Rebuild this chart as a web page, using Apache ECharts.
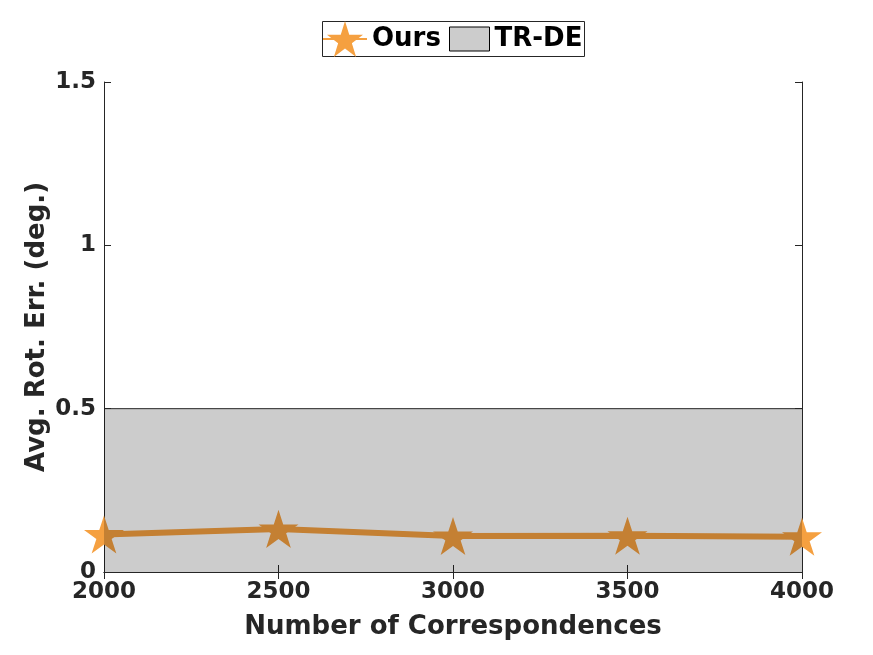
<!DOCTYPE html>
<html>
<head>
<meta charset="utf-8">
<script src="https://cdn.jsdelivr.net/npm/echarts@6/dist/echarts.min.js"></script>
<style>
  html, body { margin: 0; padding: 0; background: #fff; }
  #chart { width: 873px; height: 655px; }
</style>
</head>
<body>
<div id="chart"></div>
<script>
// 数据
var correspondences = [2000, 2500, 3000, 3500, 4000];
var oursErr = [0.115, 0.132, 0.110, 0.111, 0.108];
var trdeRange = [0.5, 0.5]; // TR-DE 区域上沿 (从 2000 到 4000)
var xTicks = [2000, 2500, 3000, 3500, 4000];
var yTicks = [0, 0.5, 1, 1.5];

var starPath = 'path://M50 0 L61.23 34.55 L97.55 34.55 L68.16 55.9 L79.39 90.45 L50 69.1 L20.61 90.45 L31.84 55.9 L2.45 34.55 L38.77 34.55 Z';
var font = 'DejaVu Sans';
var ink = '#262626';
var orange = '#f5a040';

var chart = echarts.init(document.getElementById('chart'));

var oursData = correspondences.map(function (x, i) { return [x, oursErr[i]]; });
var trdeData = [[xTicks[0], trdeRange[0]], [xTicks[xTicks.length - 1], trdeRange[1]]];

var legendText = { fontFamily: font, fontWeight: 'bold', fontSize: 26, color: '#000' };

chart.setOption({
  animation: false,
  // 图例外框
  graphic: [{
    type: 'rect',
    shape: { x: 322.5, y: 21.5, width: 262, height: 35 },
    style: { fill: '#fff', stroke: ink, lineWidth: 1 },
    z: 0
  }],
  legend: [
    {
      top: 21,
      left: 322,
      padding: 0,
      itemWidth: 44,
      itemHeight: 45,
      textStyle: legendText,
      data: ['Ours']
    },
    {
      top: 26,
      left: 449,
      padding: 0,
      itemWidth: 40,
      itemHeight: 24,
      textStyle: legendText,
      data: [{ name: 'TR-DE', icon: 'rect', itemStyle: { color: '#cccccc', borderColor: '#000', borderWidth: 1 } }]
    }
  ],
  grid: { left: 104, right: 71, top: 82, bottom: 83, show: false },
  xAxis: [
    {
      type: 'value',
      min: 2000,
      max: 4000,
      interval: 500,
      name: 'Number of Correspondences',
      nameLocation: 'middle',
      nameGap: 42,
      nameMoveOverlap: false,
      nameTextStyle: { fontFamily: font, fontWeight: 'bold', fontSize: 26, color: ink },
      axisLine: { lineStyle: { color: ink, width: 1 } },
      axisTick: { inside: true, length: 7, lineStyle: { color: ink } },
      axisLabel: { fontFamily: font, fontWeight: 'bold', fontSize: 23, color: ink, margin: 9,
        formatter: function (v) { return String(v); } },
      splitLine: { show: false }
    },
    {
      type: 'value',
      position: 'top',
      min: 2000,
      max: 4000,
      interval: 500,
      axisLine: { lineStyle: { color: ink, width: 1 } },
      axisTick: { inside: true, length: 7, lineStyle: { color: ink } },
      axisLabel: { show: false },
      splitLine: { show: false }
    }
  ],
  yAxis: [
    {
      type: 'value',
      min: 0,
      max: 1.5,
      interval: 0.5,
      name: 'Avg. Rot. Err. (deg.)',
      nameLocation: 'middle',
      nameGap: 54,
      nameMoveOverlap: false,
      nameTextStyle: { fontFamily: font, fontWeight: 'bold', fontSize: 26, color: ink },
      axisLine: { show: true, lineStyle: { color: ink, width: 1 } },
      axisTick: { show: true, inside: true, length: 7, lineStyle: { color: ink } },
      axisLabel: { fontFamily: font, fontWeight: 'bold', fontSize: 23, color: ink, margin: 8,
        formatter: function (v) { return String(v); } },
      splitLine: { show: false }
    },
    {
      type: 'value',
      position: 'right',
      min: 0,
      max: 1.5,
      interval: 0.5,
      axisLine: { show: true, lineStyle: { color: ink, width: 1 } },
      axisTick: { show: true, inside: true, length: 7, lineStyle: { color: ink } },
      axisLabel: { show: false },
      splitLine: { show: false }
    }
  ],
  series: [
    {
      name: 'Ours',
      type: 'line',
      data: oursData,
      z: 3,
      symbol: starPath,
      symbolKeepAspect: true,
      symbolSize: 40,
      itemStyle: { color: orange },
      lineStyle: { color: orange, width: 6 }
    },
    {
      name: 'TR-DE',
      type: 'line',
      data: trdeData,
      z: 4,
      symbol: 'none',
      silent: true,
      itemStyle: { color: '#cccccc' },
      lineStyle: { color: ink, width: 1 },
      areaStyle: { color: 'rgba(0,0,0,0.2)', opacity: 1, origin: 'start' }
    }
  ]
});
</script>
</body>
</html>
